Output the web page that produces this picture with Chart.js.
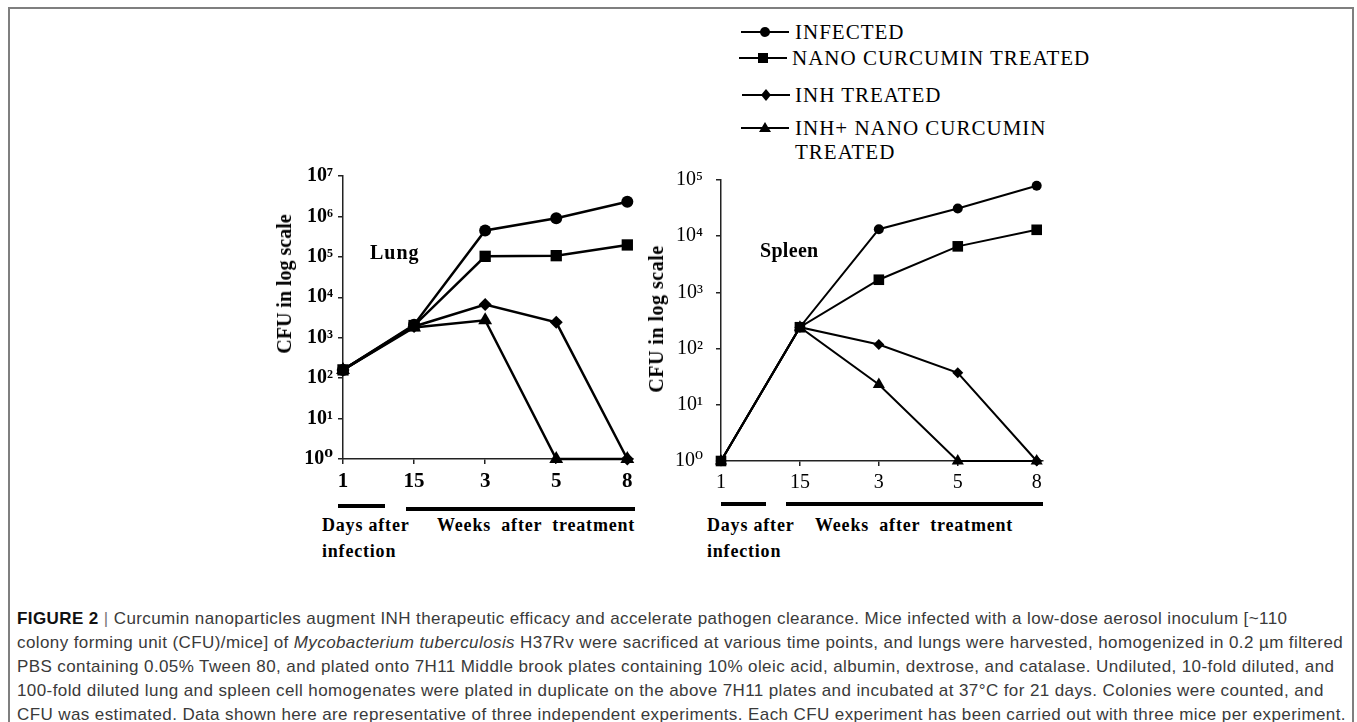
<!DOCTYPE html>
<html><head><meta charset="utf-8">
<script src="https://cdn.jsdelivr.net/npm/chart.js@4.4.0/dist/chart.umd.min.js"></script>
<style>
html,body{margin:0;padding:0;background:#fff;width:1357px;height:722px;overflow:hidden;position:relative;}
#frame{position:absolute;left:8px;top:7px;width:1346px;height:780px;border:2px solid #7f7f7f;box-sizing:border-box;}
.abs{position:absolute;white-space:nowrap;}
.serif{font-family:"Liberation Serif","DejaVu Serif",serif;color:#000;}
.leg{font-family:"Liberation Serif","DejaVu Serif",serif;font-size:21px;line-height:21px;letter-spacing:1px;color:#000;}
.ann{font-size:18px;line-height:18px;font-weight:bold;letter-spacing:0.8px;}
.ytitle{font-size:20px;line-height:20px;font-weight:bold;transform:translate(-50%,-50%) rotate(-90deg);}
.bar{position:absolute;background:#000;height:4px;}
.cap{position:absolute;left:17px;white-space:nowrap;font-family:"Liberation Sans",Arial,sans-serif;font-size:17px;line-height:20px;color:#3a3a3a;}
.cap b{color:#111;}
.cap .sep{color:#777;font-weight:300;}
</style>
</head><body>
<div id="frame"></div>

<!-- legend -->
<svg class="abs" style="left:740px;top:22px" width="50" height="20"><line x1="1" y1="10" x2="49" y2="10" stroke="#000" stroke-width="2"/><circle cx="25" cy="10" r="5" fill="#000"/></svg>
<div class="abs leg" style="left:795px;top:22px">INFECTED</div>
<svg class="abs" style="left:738px;top:48px" width="50" height="20"><line x1="1" y1="10" x2="49" y2="10" stroke="#000" stroke-width="2"/><rect x="20" y="5" width="10" height="10" fill="#000"/></svg>
<div class="abs leg" style="left:792px;top:48px">NANO CURCUMIN TREATED</div>
<svg class="abs" style="left:741px;top:85px" width="50" height="20"><line x1="1" y1="10" x2="49" y2="10" stroke="#000" stroke-width="2"/><polygon points="25,4 30,10 25,16 20,10" fill="#000"/></svg>
<div class="abs leg" style="left:795px;top:85px">INH TREATED</div>
<svg class="abs" style="left:740px;top:118px" width="50" height="20"><line x1="1" y1="10" x2="49" y2="10" stroke="#000" stroke-width="2"/><polygon points="25,4 31,14 19,14" fill="#000"/></svg>
<div class="abs leg" style="left:795px;top:118px">INH+ NANO CURCUMIN</div>
<div class="abs leg" style="left:795px;top:142px">TREATED</div>

<!-- charts -->
<canvas id="lung" class="abs" style="left:230px;top:150px" width="420" height="345"></canvas>
<canvas id="spleen" class="abs" style="left:650px;top:150px" width="430" height="345"></canvas>

<!-- in-chart labels and axis titles -->
<div class="abs serif" style="left:370px;top:242px;font-size:20px;line-height:20px;font-weight:bold;letter-spacing:1px">Lung</div>
<div class="abs serif" style="left:760px;top:240px;font-size:20px;line-height:20px;font-weight:bold;letter-spacing:0.3px">Spleen</div>
<div class="abs serif ytitle" style="left:284px;top:284px">CFU in log scale</div>
<div class="abs serif ytitle" style="left:656px;top:319px;letter-spacing:0.5px">CFU in log scale</div>

<!-- x annotations -->
<div class="bar" style="left:338px;top:504px;width:47px"></div>
<div class="bar" style="left:406px;top:507px;width:229px"></div>
<div class="abs serif ann" style="left:322px;top:516px">Days after</div>
<div class="abs serif ann" style="left:437px;top:516px;word-spacing:5px">Weeks after treatment</div>
<div class="abs serif ann" style="left:322px;top:542px">infection</div>

<div class="bar" style="left:721px;top:502px;width:45px"></div>
<div class="bar" style="left:786px;top:502px;width:257px"></div>
<div class="abs serif ann" style="left:707px;top:516px">Days after</div>
<div class="abs serif ann" style="left:815px;top:516px;word-spacing:5px">Weeks after treatment</div>
<div class="abs serif ann" style="left:707px;top:542px">infection</div>

<!-- caption -->
<div class="cap" style="top:609px"><b>FIGURE 2</b> <span class="sep">|</span> Curcumin nanoparticles augment INH therapeutic efficacy and accelerate pathogen clearance. Mice infected with a low-dose aerosol inoculum [~110</div>
<div class="cap" style="top:633px">colony forming unit (CFU)/mice] of <i>Mycobacterium tuberculosis</i> H37Rv were sacrificed at various time points, and lungs were harvested, homogenized in 0.2 µm filtered</div>
<div class="cap" style="top:657px">PBS containing 0.05% Tween 80, and plated onto 7H11 Middle brook plates containing 10% oleic acid, albumin, dextrose, and catalase. Undiluted, 10-fold diluted, and</div>
<div class="cap" style="top:681px">100-fold diluted lung and spleen cell homogenates were plated in duplicate on the above 7H11 plates and incubated at 37°C for 21 days. Colonies were counted, and</div>
<div class="cap" id="cap5" style="top:705px">CFU was estimated. Data shown here are representative of three independent experiments. Each CFU experiment has been carried out with three mice per experiment.</div>

<script>
// ---------- data ----------
const xLabels = ['1', '15', '3', '5', '8'];
const seriesNames = ['INFECTED', 'NANO CURCUMIN TREATED', 'INH TREATED', 'INH+ NANO CURCUMIN TREATED'];

const lungInfected = [160, 2100, 450000, 900000, 2300000];
const lungNano     = [160, 2000, 103000, 107000, 197000];
const lungInh      = [160, 1900, 6600, 2400, 1];
const lungInhNano  = [160, 1800, 2700, 1, 1];

const spleenInfected = [1, 240, 13300, 31000, 79000];
const spleenNano     = [1, 240, 1680, 6600, 13000];
const spleenInh      = [1, 240, 118, 37, 1];
const spleenInhNano  = [1, 240, 23, 1, 1];

const lungYTicks   = [1, 10, 100, 1000, 10000, 100000, 1000000, 10000000];
const spleenYTicks = [1, 10, 100, 1000, 10000, 100000];

// ---------- helpers ----------
const SUP = {'0':'⁰','1':'¹','2':'²','3':'³','4':'⁴','5':'⁵','6':'⁶','7':'⁷','8':'⁸','9':'⁹'};
function powLabel(v) {
  const e = Math.round(Math.log10(v));
  return '10' + String(e).split('').map(c => SUP[c]).join('');
}
const SERIF = '"Liberation Serif", "DejaVu Serif", serif';

function buildChart(id, series, o) {
  const styles = ['circle', 'rect', 'rectRot', 'triangle'];
  const datasets = series.map((vals, k) => ({
    label: seriesNames[k],
    data: vals.map((v, i) => ({x: i, y: v})),
    borderColor: '#000',
    backgroundColor: '#000',
    borderWidth: o.lineWidth,
    pointStyle: styles[k],
    pointRadius: o.radii[k],
    pointHoverRadius: o.radii[k],
    pointBorderWidth: 0,
    tension: 0,
    clip: false
  })).reverse();
  const axisGrid = {display: true, drawOnChartArea: false, drawTicks: true, tickLength: 5, color: '#222', lineWidth: 1.5};
  const axisBorder = {display: true, color: '#222', width: 1.5};
  return new Chart(document.getElementById(id), {
    type: 'line',
    data: {datasets},
    options: {
      responsive: false,
      animation: false,
      events: [],
      layout: {padding: {top: o.padTop, right: o.padRight, left: 0, bottom: 0}},
      plugins: {legend: {display: false}, tooltip: {enabled: false}},
      scales: {
        x: {
          type: 'linear', min: 0, max: 4.08,
          afterBuildTicks: s => { s.ticks = xLabels.map((_, i) => ({value: i})); },
          afterFit: s => { s.height = o.xHeight; },
          ticks: {callback: v => xLabels[v], color: '#000', padding: 5, maxRotation: 0, autoSkip: false,
                  font: {family: SERIF, size: o.xFont, weight: o.xWeight}},
          grid: axisGrid, border: axisBorder
        },
        y: {
          type: 'logarithmic', min: o.yTicks[0], max: o.yTicks[o.yTicks.length - 1],
          afterBuildTicks: s => { s.ticks = o.yTicks.map(v => ({value: v})); },
          afterFit: s => { s.width = o.yWidth; },
          ticks: {callback: v => powLabel(v), color: '#000', padding: o.yPad, autoSkip: false,
                  font: {family: SERIF, size: o.yFont, weight: o.yWeight}},
          grid: axisGrid, border: axisBorder
        }
      }
    }
  });
}

buildChart('lung', [lungInfected, lungNano, lungInh, lungInhNano], {
  lineWidth: 2.5, radii: [6, 8, 6.5, 8], padTop: 26, padRight: 17, xHeight: 36, yWidth: 113,
  yTicks: lungYTicks, xFont: 21, xWeight: 'bold', yFont: 20, yWeight: 'bold', yPad: 5
});
buildChart('spleen', [spleenInfected, spleenNano, spleenInh, spleenInhNano], {
  lineWidth: 2, radii: [5, 7.5, 5.5, 7], padTop: 30, padRight: 37, xHeight: 34, yWidth: 71,
  yTicks: spleenYTicks, xFont: 20, xWeight: 'normal', yFont: 20, yWeight: 'normal', yPad: 13
});

// caption letter-spacing calibrated on the last line width
(function () {
  const c5 = document.getElementById('cap5');
  const w = c5.getBoundingClientRect().width;
  const n = c5.textContent.length;
  const ls = (1329 - w) / n;
  document.querySelectorAll('.cap').forEach(el => { el.style.letterSpacing = ls.toFixed(3) + 'px'; });
})();
</script>
</body></html>
